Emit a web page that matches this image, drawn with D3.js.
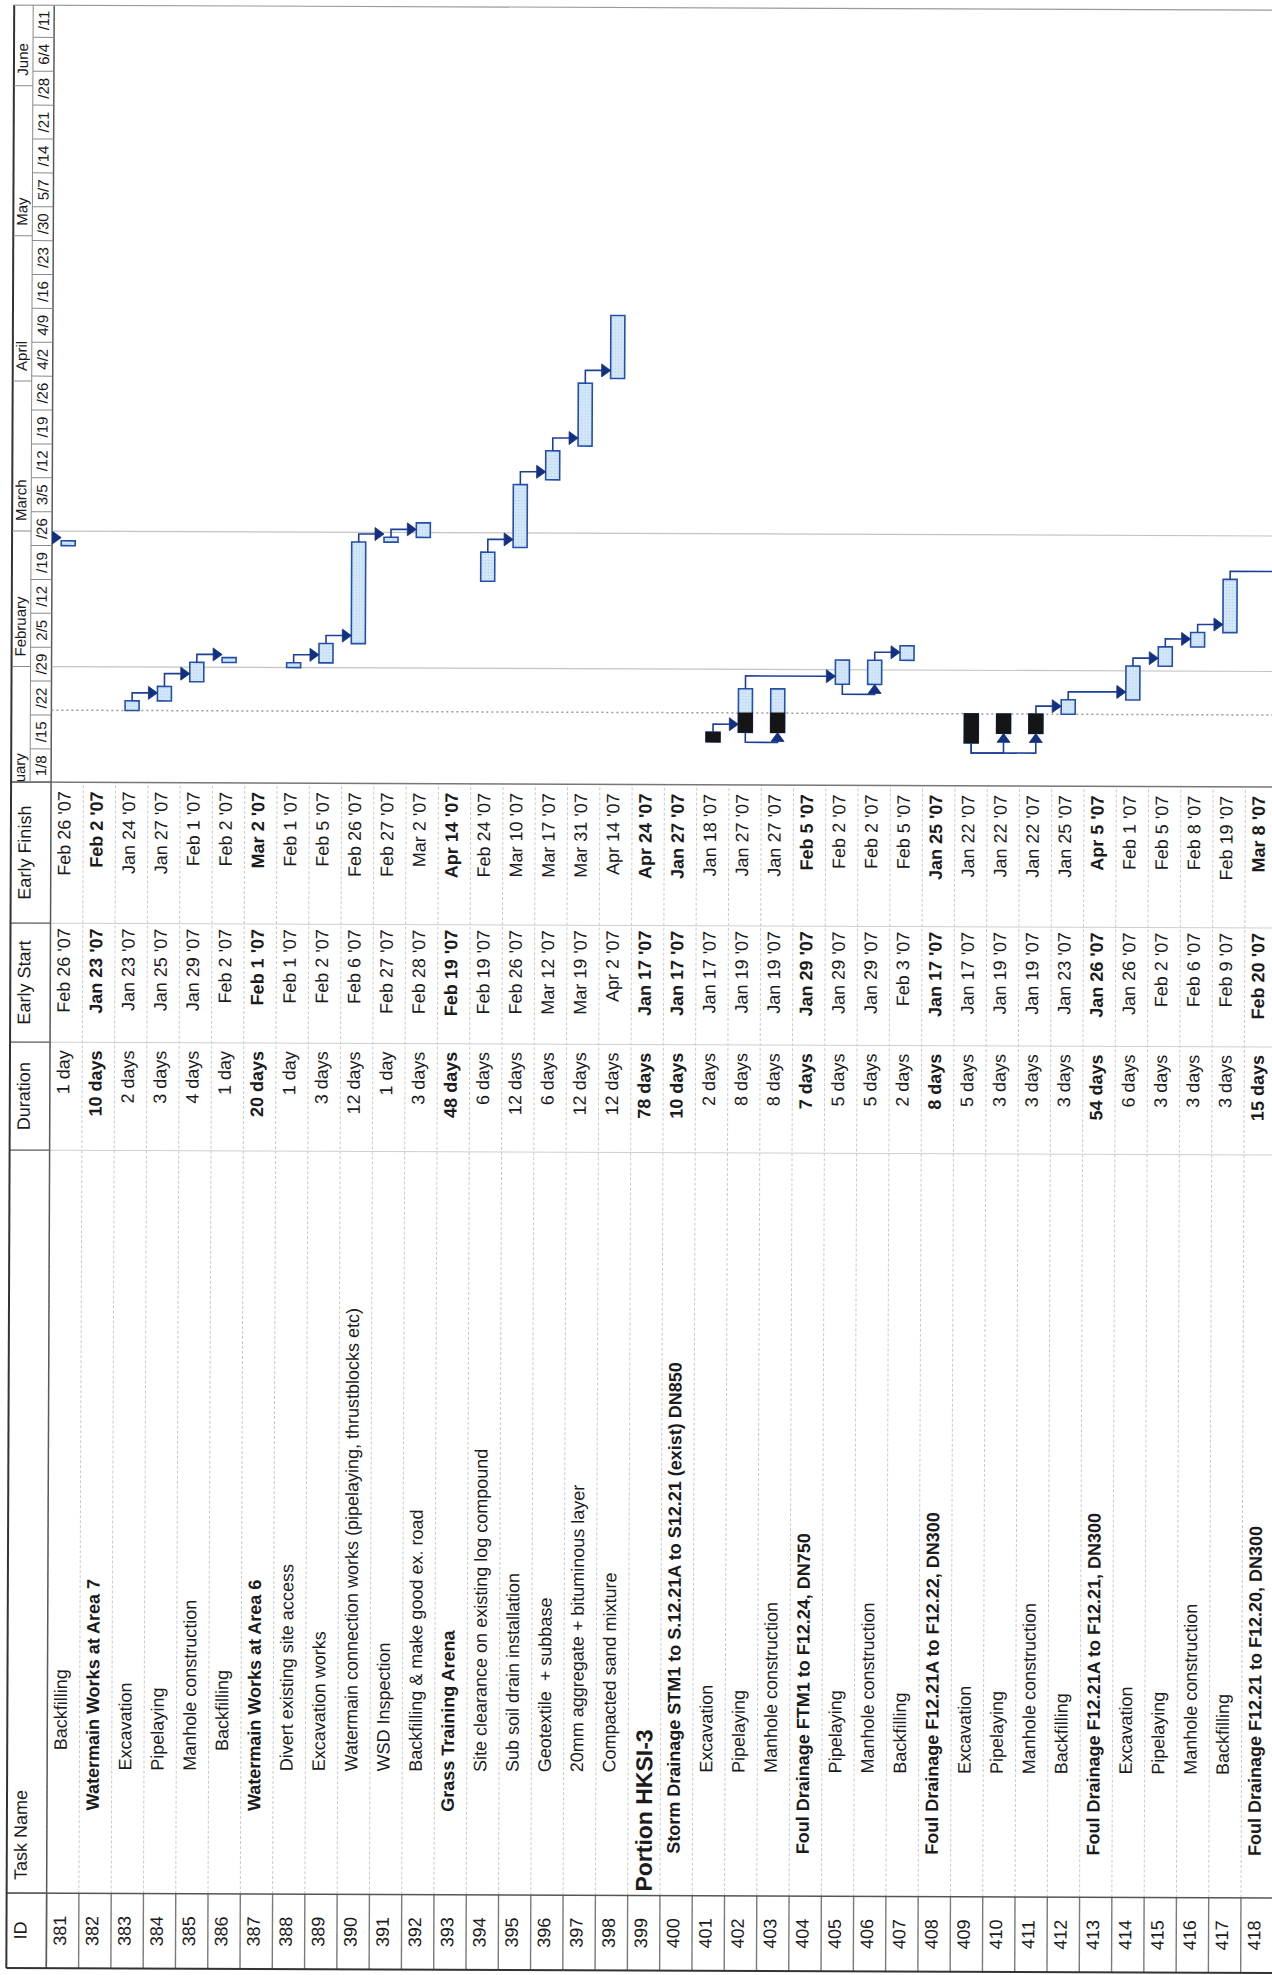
<!DOCTYPE html>
<html>
<head>
<meta charset="utf-8">
<title>Gantt – Portion HKSI-3</title>
<script src="https://cdn.jsdelivr.net/npm/d3@7/dist/d3.min.js"></script>
<style>
  html, body { margin:0; padding:0; background:#ffffff; }
  svg { display:block; }
  text { font-family: "Liberation Sans", Arial, Helvetica, sans-serif; fill:#1b1b1b; white-space: pre; }
</style>
</head>
<body>
<svg id="chart" width="1272" height="1975" viewBox="0 0 1272 1975"></svg>
<script>
// ---------------- DATA ----------------
const ids = [381,382,383,384,385,386,387,388,389,390,391,392,393,394,395,396,397,398,399,
             400,401,402,403,404,405,406,407,408,409,410,411,412,413,414,415,416,417,418];

const taskNames = [
  "Backfilling",
  "Watermain Works at Area 7",
  "Excavation",
  "Pipelaying",
  "Manhole construction",
  "Backfilling",
  "Watermain Works at Area 6",
  "Divert existing site access",
  "Excavation works",
  "Watermain connection works (pipelaying, thrustblocks etc)",
  "WSD Inspection",
  "Backfilling & make good ex. road",
  "Grass Training Arena",
  "Site clearance on existing log compound",
  "Sub soil drain installation",
  "Geotextile  + subbase",
  "20mm aggregate + bituminous layer",
  "Compacted sand mixture",
  "Portion HKSI-3",
  "Storm Drainage STM1 to S.12.21A to S12.21 (exist) DN850",
  "Excavation",
  "Pipelaying",
  "Manhole construction",
  "Foul Drainage FTM1 to F12.24, DN750",
  "Pipelaying",
  "Manhole construction",
  "Backfilling",
  "Foul Drainage F12.21A to F12.22, DN300",
  "Excavation",
  "Pipelaying",
  "Manhole construction",
  "Backfilling",
  "Foul Drainage F12.21A to F12.21, DN300",
  "Excavation",
  "Pipelaying",
  "Manhole construction",
  "Backfilling",
  "Foul Drainage F12.21 to F12.20, DN300"
];

const durations = [
  "1 day","10 days","2 days","3 days","4 days","1 day","20 days","1 day","3 days","12 days",
  "1 day","3 days","48 days","6 days","12 days","6 days","12 days","12 days","78 days","10 days",
  "2 days","8 days","8 days","7 days","5 days","5 days","2 days","8 days","5 days","3 days",
  "3 days","3 days","54 days","6 days","3 days","3 days","3 days","15 days"
];

const earlyStart = [
  "Feb 26 '07","Jan 23 '07","Jan 23 '07","Jan 25 '07","Jan 29 '07","Feb 2 '07","Feb 1 '07","Feb 1 '07",
  "Feb 2 '07","Feb 6 '07","Feb 27 '07","Feb 28 '07","Feb 19 '07","Feb 19 '07","Feb 26 '07","Mar 12 '07",
  "Mar 19 '07","Apr 2 '07","Jan 17 '07","Jan 17 '07","Jan 17 '07","Jan 19 '07","Jan 19 '07","Jan 29 '07",
  "Jan 29 '07","Jan 29 '07","Feb 3 '07","Jan 17 '07","Jan 17 '07","Jan 19 '07","Jan 19 '07","Jan 23 '07",
  "Jan 26 '07","Jan 26 '07","Feb 2 '07","Feb 6 '07","Feb 9 '07","Feb 20 '07"
];

const earlyFinish = [
  "Feb 26 '07","Feb 2 '07","Jan 24 '07","Jan 27 '07","Feb 1 '07","Feb 2 '07","Mar 2 '07","Feb 1 '07",
  "Feb 5 '07","Feb 26 '07","Feb 27 '07","Mar 2 '07","Apr 14 '07","Feb 24 '07","Mar 10 '07","Mar 17 '07",
  "Mar 31 '07","Apr 14 '07","Apr 24 '07","Jan 27 '07","Jan 18 '07","Jan 27 '07","Jan 27 '07","Feb 5 '07",
  "Feb 2 '07","Feb 2 '07","Feb 5 '07","Jan 25 '07","Jan 22 '07","Jan 22 '07","Jan 22 '07","Jan 25 '07",
  "Apr 5 '07","Feb 1 '07","Feb 5 '07","Feb 8 '07","Feb 19 '07","Mar 8 '07"
];

// outline indent level of each task name (0 = top level)
const outlineLevel = [4,2,3,3,3,4,2,3,3,3,3,3,2,3,3,3,3,3,0,1,3,3,3,1,3,3,3,1,3,3,3,3,1,3,3,3,3,1];

const summaryTasks = [382,387,393,399,400,404,408,413,418];
const headlineTasks = [399];

const statusDate = "Jan 23 '07";
const progressTasks = [401,402,403,409,410,411];

// tasks just outside the printed window that are linked to visible tasks
const offscreenIds = [380, 419];
const offscreenStart = ["Feb 19 '07", "Feb 20 '07"];
const offscreenFinish = ["Feb 25 '07", "Feb 22 '07"];

// [predecessor, successor, type]
const links = [
  [380,381,"FS"],
  [383,384,"FS"],[384,385,"FS"],[385,386,"FS"],
  [388,389,"FS"],[389,390,"FS"],[390,391,"FS"],[391,392,"FS"],
  [394,395,"FS"],[395,396,"FS"],[396,397,"FS"],[397,398,"FS"],
  [401,402,"FS"],[402,403,"SS"],[402,405,"FS"],[405,406,"SS"],[406,407,"FS"],
  [409,410,"SS"],[409,411,"SS"],[411,412,"FS"],[412,414,"FS"],
  [414,415,"FS"],[415,416,"FS"],[416,417,"FS"],[417,419,"FS"]
];

const columnHeaders = ["ID","Task Name","Duration","Early Start","Early Finish"];

const monthStarts = ["Jan 1 '07","Feb 1 '07","Mar 1 '07","Apr 1 '07","May 1 '07","Jun 1 '07"];
const monthLabels = ["January","February","March","April","May","June"];

const weekStarts = ["Jan 8 '07","Jan 15 '07","Jan 22 '07","Jan 29 '07","Feb 5 '07","Feb 12 '07","Feb 19 '07",
  "Feb 26 '07","Mar 5 '07","Mar 12 '07","Mar 19 '07","Mar 26 '07","Apr 2 '07","Apr 9 '07","Apr 16 '07",
  "Apr 23 '07","Apr 30 '07","May 7 '07","May 14 '07","May 21 '07","May 28 '07","Jun 4 '07","Jun 11 '07"];
const weekLabels = ["1/8","/15","/22","/29","2/5","/12","/19","/26","3/5","/12","/19","/26",
  "4/2","4/9","/16","/23","/30","5/7","/14","/21","/28","6/4","/11"];

const gridDates = ["Feb 1 '07","Mar 1 '07"];

// ---------------- HELPERS ----------------
const MONTHS = ["Jan","Feb","Mar","Apr","May","Jun","Jul","Aug","Sep","Oct","Nov","Dec"];
const DAY = 864e5;
function parseDate(s){
  const p = s.replace("'", "").trim().split(/\s+/);
  return new Date(Date.UTC(2000 + (+p[2]), MONTHS.indexOf(p[0]), +p[1]));
}

// Layout in the un-rotated frame (u = along time/columns, v = down the rows)
const PX_PER_DAY = 4.84;
const anchorDate = parseDate("Apr 2 '07"), anchorU = 1599;
const d0 = parseDate("Jan 1 '07"), d1 = parseDate("Jun 20 '07");
const x = d3.scaleUtc().domain([d0, d1])
  .range([anchorU + (d0 - anchorDate) / DAY * PX_PER_DAY, anchorU + (d1 - anchorDate) / DAY * PX_PER_DAY]);

const ROW_H = 32.28, TOP = 47, LEFT = 7, RIGHT = 1970, BOTTOM = 1290;
const y = d3.scaleLinear().domain([0, ids.length]).range([TOP, TOP + ids.length * ROW_H]);
const colEdges = [7, 82, 825, 933, 1052, 1193];
const TL0 = colEdges[5];
const indentU = [86, 124, 165, 205, 225];
const BAR_H = 14;

const tasks = ids.map((id, i) => ({
  id, row: i, name: taskNames[i], dur: durations[i],
  es: earlyStart[i], ef: earlyFinish[i],
  start: parseDate(earlyStart[i]), end: new Date(+parseDate(earlyFinish[i]) + DAY),
  summary: summaryTasks.includes(id), headline: headlineTasks.includes(id), level: outlineLevel[i]
}));
const byId = new Map(tasks.map(t => [t.id, t]));
offscreenIds.forEach((id, k) => byId.set(id, {
  id, row: id - ids[0], start: parseDate(offscreenStart[k]),
  end: new Date(+parseDate(offscreenFinish[k]) + DAY)
}));

const barTop = r => y(r) + (ROW_H - BAR_H) / 2;
const rowMid = r => y(r) + ROW_H / 2;

// ---------------- DRAW ----------------
const svg = d3.select("#chart");
const defs = svg.append("defs");
defs.append("clipPath").attr("id", "clipTL").append("rect")
  .attr("x", TL0).attr("y", TOP).attr("width", RIGHT - TL0).attr("height", BOTTOM - TOP);
defs.append("clipPath").attr("id", "clipScale").append("rect")
  .attr("x", TL0).attr("y", LEFT).attr("width", RIGHT - TL0).attr("height", TOP - LEFT);
const pat = defs.append("pattern").attr("id", "barPat").attr("width", 3).attr("height", 3)
  .attr("patternUnits", "userSpaceOnUse");
pat.append("rect").attr("width", 3).attr("height", 3).attr("fill", "#d3e7f8");
pat.append("rect").attr("width", 1).attr("height", 1).attr("fill", "#a9cdee");

// slight skew of the scanned page, then the page is turned a quarter turn
const root = svg.append("g")
  .attr("transform", "rotate(0.23,0,1800) translate(0,1975) rotate(-90)");

// --- table row separators
const tableRows = root.append("g");
tableRows.selectAll("line.rowl").data(d3.range(0, ids.length + 1)).join("line")
  .attr("x1", colEdges[1]).attr("x2", TL0)
  .attr("y1", d => y(d)).attr("y2", d => y(d))
  .attr("stroke", "#c9c9c9").attr("stroke-width", 1).attr("stroke-dasharray", "3,2");
tableRows.selectAll("line.idl").data(d3.range(0, ids.length + 1)).join("line")
  .attr("x1", colEdges[0]).attr("x2", colEdges[1])
  .attr("y1", d => y(d)).attr("y2", d => y(d))
  .attr("stroke", "#7a7a7a").attr("stroke-width", 1.4);

// --- column separators
root.append("g").selectAll("line").data(colEdges.slice(1)).join("line")
  .attr("x1", d => d).attr("x2", d => d).attr("y1", LEFT).attr("y2", BOTTOM)
  .attr("stroke", (d, i) => (i === 0 ? "#555" : i === 4 ? "#777" : "#cfcfcf"))
  .attr("stroke-width", (d, i) => (i === 0 || i === 4 ? 1.5 : 1));
// header cell separators (darker)
root.append("g").selectAll("line").data(colEdges.slice(1)).join("line")
  .attr("x1", d => d).attr("x2", d => d).attr("y1", LEFT).attr("y2", TOP)
  .attr("stroke", "#666").attr("stroke-width", 1.3);

// --- outer frame and header bottom line
root.append("line").attr("x1", LEFT).attr("x2", RIGHT).attr("y1", TOP).attr("y2", TOP)
  .attr("stroke", "#5a5a5a").attr("stroke-width", 1.5);
root.append("line").attr("x1", LEFT).attr("x2", RIGHT).attr("y1", LEFT).attr("y2", LEFT)
  .attr("stroke", "#333").attr("stroke-width", 2);
root.append("line").attr("x1", LEFT).attr("x2", LEFT).attr("y1", LEFT).attr("y2", BOTTOM)
  .attr("stroke", "#333").attr("stroke-width", 2);
root.append("line").attr("x1", RIGHT).attr("x2", RIGHT).attr("y1", LEFT).attr("y2", BOTTOM)
  .attr("stroke", "#9a9a9a").attr("stroke-width", 1.2);

// --- column header texts
const headerPos = [
  {u: (colEdges[0] + colEdges[1]) / 2, anchor: "middle"},
  {u: colEdges[1] + 13, anchor: "start"},
  {u: (colEdges[2] + colEdges[3]) / 2, anchor: "middle"},
  {u: (colEdges[3] + colEdges[4]) / 2, anchor: "middle"},
  {u: (colEdges[4] + colEdges[5]) / 2, anchor: "middle"}
];
root.append("g").selectAll("text").data(columnHeaders).join("text")
  .attr("x", (d, i) => headerPos[i].u).attr("y", 27)
  .attr("text-anchor", (d, i) => headerPos[i].anchor)
  .attr("font-size", 18).text(d => d);

// --- timescale header
const scaleG = root.append("g").attr("clip-path", "url(#clipScale)");
scaleG.append("line").attr("x1", TL0).attr("x2", RIGHT).attr("y1", 26).attr("y2", 26)
  .attr("stroke", "#8a8a8a").attr("stroke-width", 1);
scaleG.selectAll("line.m").data(monthStarts).join("line")
  .attr("x1", d => x(parseDate(d))).attr("x2", d => x(parseDate(d)))
  .attr("y1", LEFT).attr("y2", 26).attr("stroke", "#8a8a8a").attr("stroke-width", 1);
scaleG.selectAll("text.m").data(monthLabels).join("text")
  .attr("x", (d, i) => x(parseDate(monthStarts[i])) + 10).attr("y", 21)
  .attr("font-size", 15).text(d => d);
scaleG.selectAll("line.w").data(weekStarts).join("line")
  .attr("x1", d => x(parseDate(d))).attr("x2", d => x(parseDate(d)))
  .attr("y1", 26).attr("y2", TOP).attr("stroke", "#8a8a8a").attr("stroke-width", 1);
scaleG.selectAll("text.w").data(weekLabels).join("text")
  .attr("x", (d, i) => x(new Date(+parseDate(weekStarts[i]) + 3.5 * DAY)))
  .attr("y", 42).attr("text-anchor", "middle").attr("font-size", 15).text(d => d);

// --- table cell texts
const cells = root.append("g");
const rowsSel = cells.selectAll("g.row").data(tasks).join("g").attr("class", "row");
rowsSel.append("text")
  .attr("x", (colEdges[0] + colEdges[1]) / 2).attr("y", d => y(d.row) + 19.5)
  .attr("text-anchor", "middle").attr("font-size", 18).text(d => d.id);
rowsSel.append("text")
  .attr("x", d => indentU[d.level]).attr("y", d => y(d.row) + (d.headline ? 24 : 19.5))
  .attr("font-size", d => d.headline ? 23 : 18)
  .attr("font-weight", d => d.summary ? "bold" : "normal").text(d => d.name);
rowsSel.append("text")
  .attr("x", colEdges[3] - 8).attr("y", d => y(d.row) + 19.5).attr("text-anchor", "end")
  .attr("font-size", 18).attr("font-weight", d => d.summary ? "bold" : "normal").text(d => d.dur);
rowsSel.append("text")
  .attr("x", colEdges[4] - 5).attr("y", d => y(d.row) + 19.5).attr("text-anchor", "end")
  .attr("font-size", 18).attr("font-weight", d => d.summary ? "bold" : "normal").text(d => d.es);
rowsSel.append("text")
  .attr("x", colEdges[5] - 9).attr("y", d => y(d.row) + 19.5).attr("text-anchor", "end")
  .attr("font-size", 18).attr("font-weight", d => d.summary ? "bold" : "normal").text(d => d.ef);

// --- timeline body
const tl = root.append("g").attr("clip-path", "url(#clipTL)");
tl.selectAll("line.grid").data(gridDates).join("line")
  .attr("x1", d => x(parseDate(d))).attr("x2", d => x(parseDate(d)))
  .attr("y1", TOP).attr("y2", BOTTOM).attr("stroke", "#c4c4c4").attr("stroke-width", 1.2);
tl.append("line")
  .attr("x1", x(parseDate(statusDate))).attr("x2", x(parseDate(statusDate)))
  .attr("y1", TOP).attr("y2", BOTTOM).attr("stroke", "#9a9a9a").attr("stroke-width", 1.5)
  .attr("stroke-dasharray", "2,3");

// task bars
const bars = tasks.filter(t => !t.summary);
tl.selectAll("rect.bar").data(bars).join("rect").attr("class", "bar")
  .attr("x", d => x(d.start)).attr("width", d => x(d.end) - x(d.start))
  .attr("y", d => barTop(d.row)).attr("height", BAR_H)
  .attr("fill", "url(#barPat)").attr("stroke", "#2350a8").attr("stroke-width", 1.6);

// progress (completed work up to status date)
const sd = parseDate(statusDate);
tl.selectAll("rect.prog").data(tasks.filter(t => progressTasks.includes(t.id))).join("rect")
  .attr("x", d => x(d.start))
  .attr("width", d => x(d.end < sd ? d.end : sd) - x(d.start))
  .attr("y", d => barTop(d.row)).attr("height", BAR_H)
  .attr("fill", "#151515").attr("stroke", "#151515").attr("stroke-width", 1);

// links
const AL = 9, AW = 6.5;
const linkData = links.map(([a, b, type]) => {
  const p = byId.get(a), s = byId.get(b);
  if (type === "FS") {
    const u0 = x(p.end), us = x(s.start);
    const ut = Math.max(u0, us) + 8;
    const down = s.row > p.row;
    const vt = down ? barTop(s.row) : barTop(s.row) + BAR_H;
    const vb = down ? vt - AL : vt + AL;
    return {
      path: `M${u0},${rowMid(p.row)}H${ut}V${vb}`,
      head: `M${ut},${vt}L${ut - AW},${vb}L${ut + AW},${vb}Z`
    };
  } else {
    const u0 = x(p.start), us = x(s.start);
    const ut = Math.min(u0, us) - 10;
    const vs = rowMid(s.row);
    return {
      path: `M${u0},${rowMid(p.row)}H${ut}V${vs}H${us - AL}`,
      head: `M${us},${vs}L${us - AL},${vs - AW}L${us - AL},${vs + AW}Z`
    };
  }
});
const lg = tl.append("g");
lg.selectAll("path.lk").data(linkData).join("path")
  .attr("d", d => d.path).attr("fill", "none").attr("stroke", "#1d3f98").attr("stroke-width", 1.6);
lg.selectAll("path.hd").data(linkData).join("path")
  .attr("d", d => d.head).attr("fill", "#132f80").attr("stroke", "#132f80").attr("stroke-width", 0.8);
</script>
</body>
</html>
